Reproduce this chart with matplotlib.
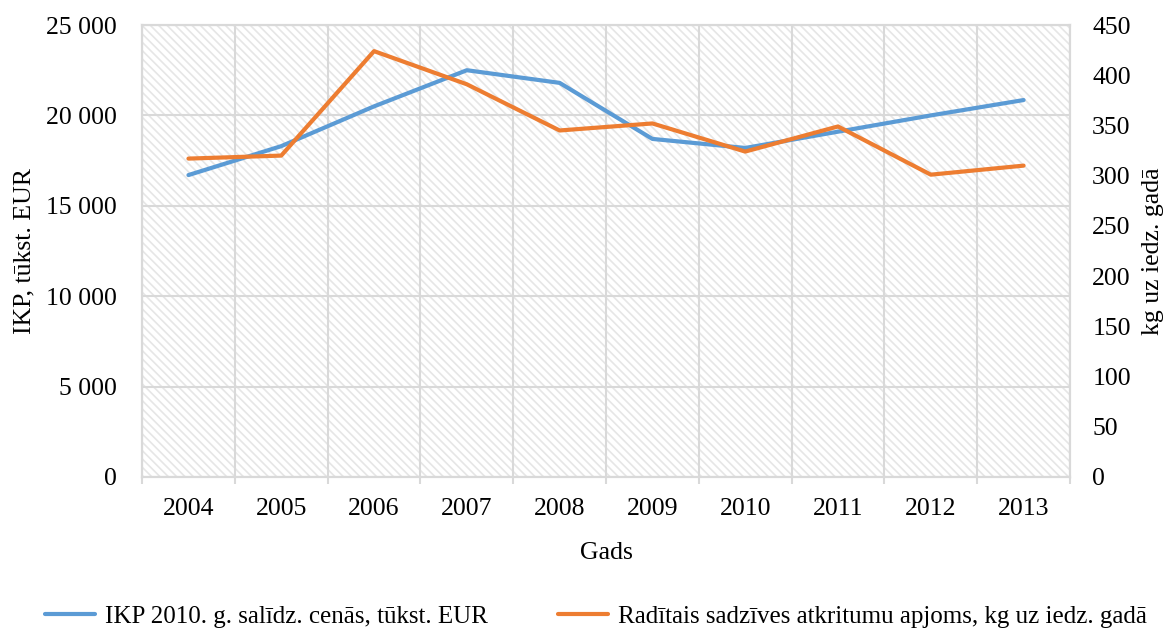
import matplotlib.pyplot as plt
from matplotlib.patches import Rectangle
from matplotlib.ticker import FuncFormatter, MultipleLocator

plt.rcParams['font.family'] = ['Liberation Serif', 'DejaVu Serif']
plt.rcParams['hatch.linewidth'] = 1.2

years = ['2004', '2005', '2006', '2007', '2008', '2009', '2010', '2011', '2012', '2013']
ikp = [16700, 18300, 20500, 22500, 21800, 18700, 18200, 19100, 20000, 20850]
waste = [317, 320, 424, 391, 345, 352, 324, 349, 301, 310]

label_ikp = 'IKP 2010. g. salīdz. cenās, tūkst. EUR'
label_waste = 'Radītais sadzīves atkritumu apjoms, kg uz iedz. gadā'

blue = '#5B9BD5'
orange = '#ED7D31'
grid_c = '#d9d9d9'
fs = 18.5

fig = plt.figure(figsize=(11.74, 6.32), dpi=100)
ax = fig.add_axes([0.121, 0.2453, 0.7904, 0.7151])
ax2 = ax.twinx()

# hatched background
ax.add_patch(Rectangle((0, 0), 1, 1, transform=ax.transAxes, facecolor='white',
                       edgecolor='#e6e6e6', linewidth=0, hatch='\\\\\\\\', zorder=0))

x = list(range(len(years)))
l1, = ax.plot(x, ikp, color=blue, lw=3, solid_capstyle='round', zorder=3, label=label_ikp)
l2, = ax2.plot(x, waste, color=orange, lw=3, solid_capstyle='round', zorder=3, label=label_waste)

ax.set_xlim(-0.5, len(years) - 0.5)
ax.set_ylim(0, 25000)
ax2.set_ylim(0, 450)
ax.yaxis.set_major_locator(MultipleLocator(5000))
ax2.yaxis.set_major_locator(MultipleLocator(50))
ax.yaxis.set_major_formatter(FuncFormatter(lambda v, p: f'{int(v):,}'.replace(',', ' ')))

ax.set_xticks([i - 0.5 for i in range(len(years) + 1)])
ax.set_xticklabels([])
ax.set_xticks(x, minor=True)
ax.set_xticklabels(years, minor=True)
ax.tick_params(axis='x', which='major', length=5, width=1.5, color=grid_c)
ax.tick_params(axis='x', which='minor', length=0, pad=15, labelsize=fs)
ax.tick_params(axis='y', length=0, pad=18, labelsize=fs)
ax2.tick_params(axis='y', length=0, pad=16, labelsize=fs)

ax.grid(True, which='major', color=grid_c, lw=1.5, zorder=1)
ax.set_axisbelow(True)
for a in (ax, ax2):
    for s in a.spines.values():
        s.set_color(grid_c)
        s.set_linewidth(1.5)

ax.set_xlabel('Gads', fontsize=fs, labelpad=16)
ax.set_ylabel('IKP, tūkst. EUR', fontsize=fs, labelpad=8)
ax2.set_ylabel('kg uz iedz. gadā', fontsize=fs, labelpad=8)

fig.legend(handles=[l1, l2], loc='center', bbox_to_anchor=(0.508, 0.024), ncol=2,
           frameon=False, fontsize=18, handlelength=2.0, handletextpad=0.4, columnspacing=2.8)

fig.savefig('out.png', dpi=100)
